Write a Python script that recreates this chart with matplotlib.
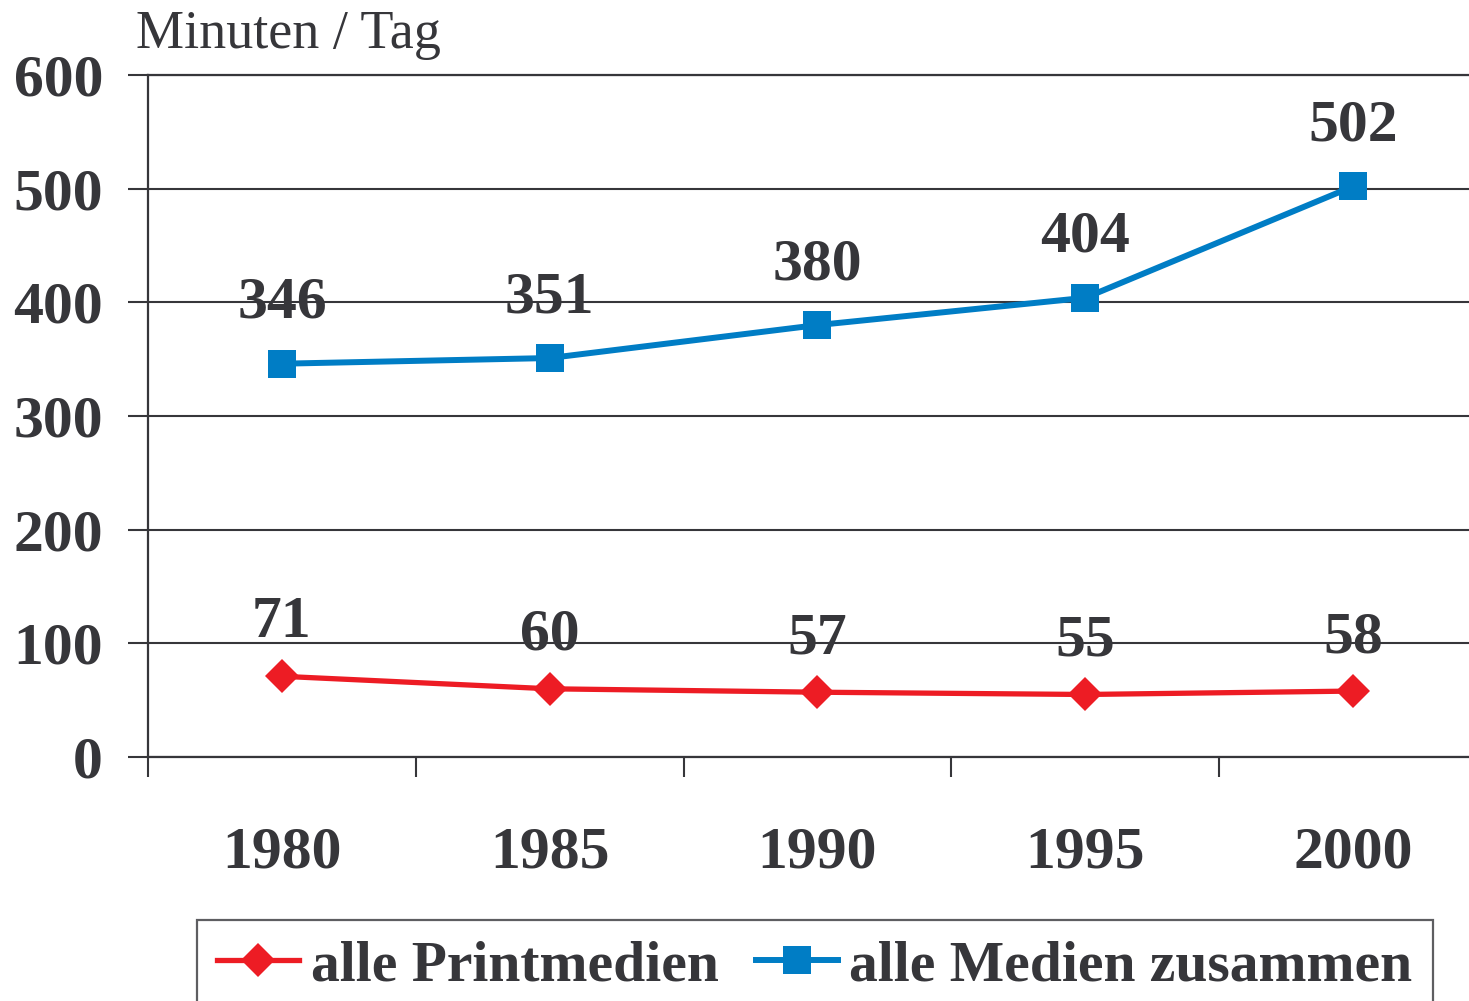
import matplotlib
matplotlib.use("Agg")
import matplotlib.pyplot as plt
from matplotlib.ticker import FixedLocator

# data
years = ["1980", "1985", "1990", "1995", "2000"]
print_media = [71, 60, 57, 55, 58]
all_media = [346, 351, 380, 404, 502]
y_ticks = [0, 100, 200, 300, 400, 500, 600]

txt_col = "#36363a"
red = "#ed1c24"
blue = "#007dc5"

plt.rcParams["font.family"] = ["Liberation Serif", "DejaVu Serif"]

fig = plt.figure(figsize=(14.69, 10.01), dpi=100)
ax = fig.add_axes([148 / 1469, 244 / 1001, 1339 / 1469, 682 / 1001])

x = list(range(len(years)))
ax.plot(x, print_media, color=red, lw=3.8, marker="D", ms=17, mew=0,
        label="alle Printmedien", zorder=3)
ax.plot(x, all_media, color=blue, lw=4.3, marker="s", ms=20, mew=0,
        label="alle Medien zusammen", zorder=3)

# value labels
for xi, v in zip(x, print_media):
    ax.annotate(str(v), (xi, v), xytext=(0, 28), textcoords="offset points",
                ha="center", va="baseline", fontsize=43, fontweight="bold",
                color=txt_col)
for xi, v in zip(x, all_media):
    ax.annotate(str(v), (xi, v), xytext=(0, 33), textcoords="offset points",
                ha="center", va="baseline", fontsize=43, fontweight="bold",
                color=txt_col)

ax.set_xlim(-0.5, 4.5)
ax.set_ylim(0, 600)

# axes styling
ax.spines["right"].set_visible(False)
for s in ["left", "bottom", "top"]:
    ax.spines[s].set_color(txt_col)
    ax.spines[s].set_linewidth(1.6)

ax.set_yticks(y_ticks)
ax.set_yticklabels([str(t) for t in y_ticks])
ax.yaxis.grid(True, color=txt_col, lw=1.5)
ax.set_axisbelow(True)
ax.tick_params(axis="y", length=14.4, width=1.5, color=txt_col, pad=18,
               labelsize=43, labelcolor=txt_col)
for lab in ax.get_yticklabels():
    lab.set_fontweight("bold")

ax.set_xticks(x)
ax.set_xticklabels(years, fontweight="bold")
ax.tick_params(axis="x", which="major", length=0, pad=50, labelsize=43,
               labelcolor=txt_col)
ax.xaxis.set_minor_locator(FixedLocator([-0.5, 0.5, 1.5, 2.5, 3.5]))
ax.tick_params(axis="x", which="minor", length=14.4, width=1.5, color=txt_col,
               direction="out")

fig.text(136 / 1469, 1 - 48 / 1001, "Minuten / Tag", fontsize=39,
         color=txt_col, va="baseline", ha="left")

leg = fig.legend(loc="upper left", bbox_to_anchor=(197 / 1469, 1 - 920 / 1001),
                 ncol=2, fontsize=41.5, frameon=True, fancybox=False,
                 handlelength=1.42, handletextpad=0.2, columnspacing=0.65,
                 borderpad=0.35, borderaxespad=0)
leg.get_frame().set_edgecolor(txt_col)
leg.get_frame().set_linewidth(1.6)
for t in leg.get_texts():
    t.set_color(txt_col)
    t.set_fontweight("bold")

fig.savefig("out.png", dpi=100)
